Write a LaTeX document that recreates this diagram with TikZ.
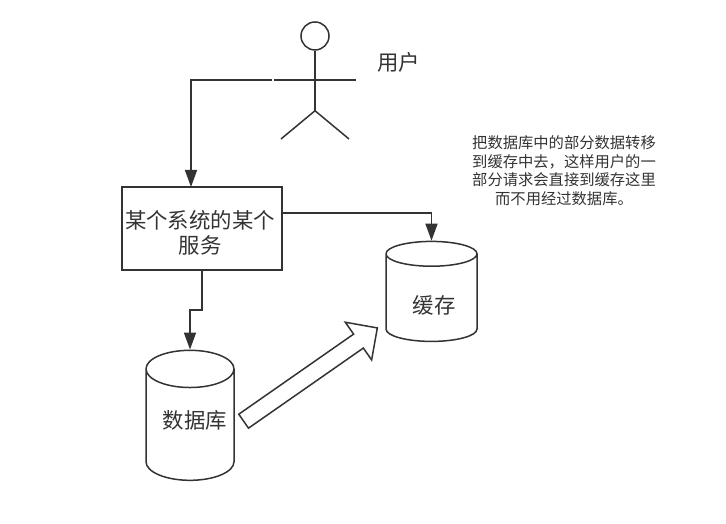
\documentclass[tikz,border=0pt]{standalone}
\usepackage{fontspec}
\setmainfont{Noto Sans CJK SC}
\usepackage{xcolor}
\usetikzlibrary{arrows.meta,shapes.geometric,shapes.arrows,positioning}
\definecolor{ink}{HTML}{333333}
\begin{document}
\begin{tikzpicture}[x=1pt,y=1pt,line width=1.5pt,color=ink,text=ink,
  conn/.style={-{Triangle[length=17pt,width=12pt]},line width=1.6pt},
  cyl/.style={draw,cylinder,shape border rotate=90,aspect=0.62,inner sep=0pt,font=\fontsize{20}{24}\selectfont},
  lbl/.style={font=\fontsize{21.4}{25}\selectfont,inner sep=0pt,align=center}]
  \useasboundingbox (0,0) rectangle (726,524);
  \node[draw,circle,minimum size=28pt,inner sep=0pt] (head) at (315,488) {};
  \coordinate[below=60pt of head.south] (hip);
  \coordinate (armleft) at (274,444);
  \coordinate (armright) at (356,444);
  \coordinate (footleft) at (281,385);
  \coordinate (footright) at (349,385);
  \coordinate (armstub) at (272,444);
  \draw (head.south) -- (hip);
  \draw (armleft) -- (armright);
  \draw (footleft) -- (hip) -- (footright);
  \node[lbl] (user) at (398.5,462) {用户};
  \node[draw,line width=1.7pt,minimum width=160pt,minimum height=83pt,inner sep=0pt] (svc) at (202,295.5) {};
  \node[lbl] (svclabel) at (200,291.5) {某个系统的某个\\服务};
  \node[cyl,minimum width=91pt,minimum height=100pt] (cache) at (431.5,226) {\phantom{缓存}};
  \node[lbl] (cachelabel) at (434,219) {缓存};
  \node[cyl,minimum width=88pt,minimum height=130pt] (db) at (190,99) {\phantom{数据库}};
  \node[lbl] (dblabel) at (195,104) {数据库};
  \node[draw,single arrow,single arrow head extend=14.5pt,single arrow tip angle=90,
        single arrow head indent=0pt,inner sep=0pt,text height=15.5pt,text depth=0pt,
        minimum width=44pt,minimum height=163pt,rotate=34.9] (move) at (307,147) {};
  \node[align=center,inner sep=0pt,font=\fontsize{15.3}{18.5}\selectfont] (note) at (564,353.5)
    {把数据库中的部分数据转移\\到缓存中去，这样用户的一\\部分请求会直接到缓存这里\\而不用经过数据库。};
  \coordinate (svcin) at (191,337);
  \coordinate (svcout) at (282,311);
  \coordinate (dropright) at (202,214);
  \coordinate (dropleft) at (190,214);
  \draw[conn] (armstub) -| (svcin);
  \draw[conn] (svcout) -| (cache.north);
  \draw[conn] (svc.south) -- (dropright) -- (dropleft) -- (db.north);
\end{tikzpicture}
\end{document}
